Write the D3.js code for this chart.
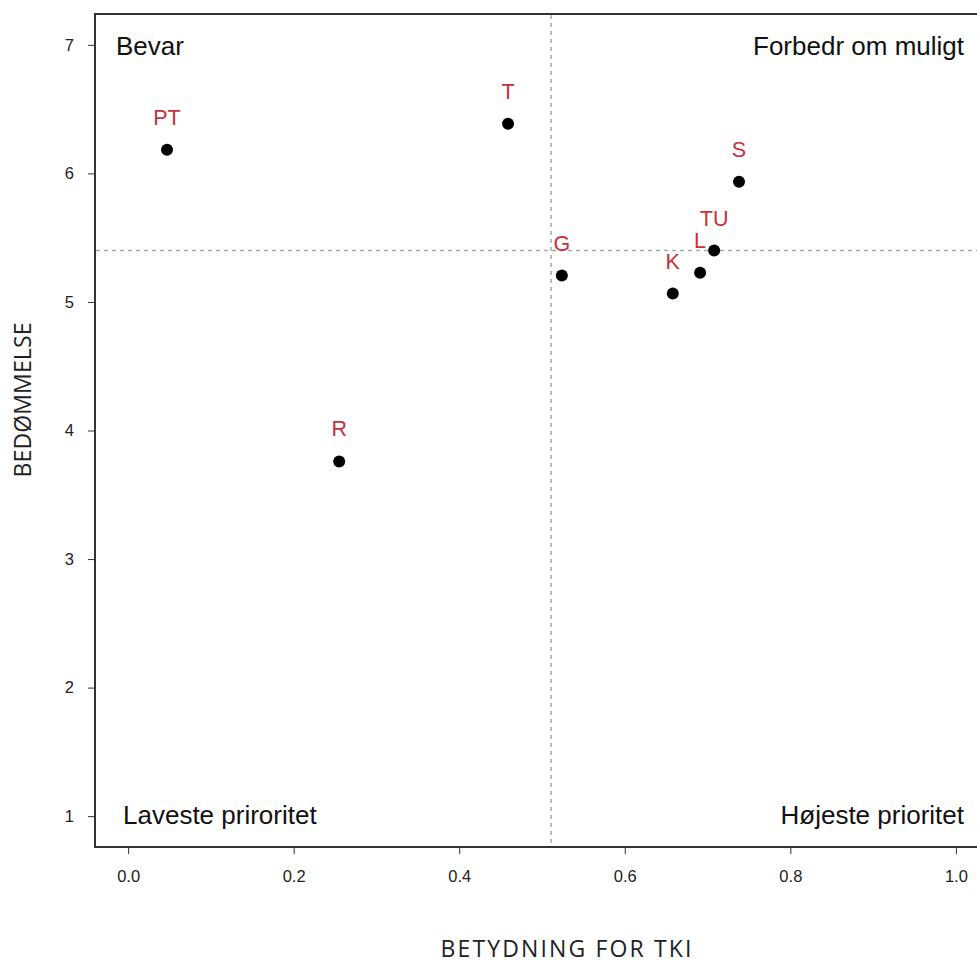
<!DOCTYPE html>
<html><head><meta charset="utf-8">
<script src="https://cdn.jsdelivr.net/npm/d3@7"></script>
<style>body{margin:0;background:#fff}svg{display:block}</style>
</head><body>
<script>
const labels = ["PT","T","R","G","K","L","TU","S"];
const xValues = [0.047,0.459,0.255,0.524,0.658,0.691,0.708,0.738];
const yValues = [6.184,6.386,3.759,5.205,5.065,5.228,5.400,5.935];
const xTicks = [0,0.2,0.4,0.6,0.8,1.0];
const yTicks = [1,2,3,4,5,6,7];
const xCut = 0.511, yCut = 5.40;
const quadrants = [
  {text:"Bevar", x:"left", y:"top"},
  {text:"Forbedr om muligt", x:"right", y:"top"},
  {text:"Laveste priroritet", x:"left", y:"bottom"},
  {text:"Højeste prioritet", x:"right", y:"bottom"}
];

const W=977,H=963;
const svg=d3.select("body").append("svg").attr("width",W).attr("height",H);
const x=d3.scaleLinear().domain([-0.04,1.04]).range([95,989]);
const y=d3.scaleLinear().domain([0.76,7.24]).range([847,14]);

const sans="'Liberation Sans', Arial, sans-serif";
// axes
const xa=svg.append("g").attr("transform","translate(0,847)")
  .call(d3.axisBottom(x).tickValues(xTicks).tickFormat(d3.format(".1f")).tickSizeOuter(0).tickSize(7).tickPadding(16));
const ya=svg.append("g").attr("transform","translate(95,0)")
  .call(d3.axisLeft(y).tickValues(yTicks).tickFormat(d3.format("d")).tickSizeOuter(0).tickSize(7).tickPadding(14));
[xa,ya].forEach(a=>{
  a.select(".domain").remove();
  a.selectAll("line").attr("stroke","#333").attr("stroke-width",1);
  a.selectAll("text").attr("font-family",sans).attr("font-size",16.5).attr("fill","#222");
});
// frame
svg.append("rect").attr("x",95).attr("y",14).attr("width",894).attr("height",833)
  .attr("fill","none").attr("stroke","#333").attr("stroke-width",2);

// cut lines
svg.append("line").attr("x1",x(xCut)).attr("x2",x(xCut)).attr("y1",15).attr("y2",846)
  .attr("stroke","#aaa").attr("stroke-width",1.5).attr("stroke-dasharray","4,4");
svg.append("line").attr("x1",96).attr("x2",988).attr("y1",y(yCut)).attr("y2",y(yCut))
  .attr("stroke","#aaa").attr("stroke-width",1.5).attr("stroke-dasharray","4,4");

// quadrant labels
svg.selectAll(".q").data(quadrants).enter().append("text")
  .attr("x",d=>d.x==="left"? (d.y==="top"?116:123) : 964)
  .attr("y",d=>d.y==="top"? 55 : 824)
  .attr("text-anchor",d=>d.x==="left"?"start":"end")
  .attr("font-family",sans).attr("font-size",26).attr("fill","#111")
  .text(d=>d.text);

// points
const data=labels.map((l,i)=>({l,x:xValues[i],y:yValues[i]}));
svg.selectAll(".pt").data(data).enter().append("circle")
  .attr("cx",d=>x(d.x)).attr("cy",d=>y(d.y)).attr("r",6).attr("fill","#000");
svg.selectAll(".lb").data(data).enter().append("text")
  .attr("x",d=>x(d.x)).attr("y",d=>y(d.y)-25)
  .attr("text-anchor","middle").attr("font-family",sans).attr("font-size",21.5)
  .attr("fill","#cc2f3a").text(d=>d.l);

// axis titles
const os="'Open Sans', 'Noto Sans', sans-serif";
svg.append("text").attr("x",566).attr("y",957).attr("text-anchor","middle")
  .attr("font-family",os).attr("font-size",23).attr("fill","#222")
  .attr("textLength",251).attr("lengthAdjust","spacing").text("BETYDNING FOR TKI");
svg.append("text").attr("transform","translate(31,400) rotate(-90)").attr("text-anchor","middle")
  .attr("font-family",os).attr("font-size",23).attr("fill","#222")
  .attr("textLength",155).attr("lengthAdjust","spacing").text("BEDØMMELSE");
</script>
</body></html>
